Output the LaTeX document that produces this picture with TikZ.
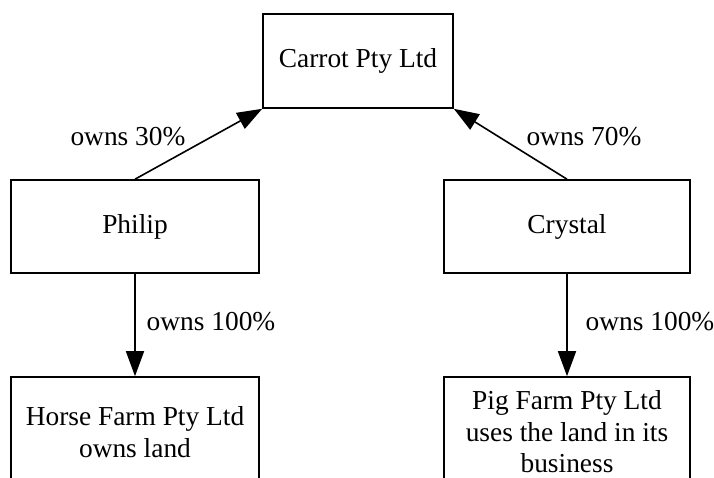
\documentclass[tikz,border=0pt]{standalone}
\usepackage{fontspec}
\setmainfont{Liberation Serif}
\usetikzlibrary{arrows.meta}
\begin{document}
\begin{tikzpicture}[x=1pt,y=-1pt,
  box/.style={draw,line width=1.6pt,rectangle,inner sep=0pt,align=center,
    font=\fontsize{27.4}{31.5}\selectfont},
  lbl/.style={inner sep=0pt,font=\fontsize{27.4}{31.5}\selectfont},
  arr/.style={line width=1.6pt,-{Triangle[length=25pt,width=18pt]}}]
\useasboundingbox (0,0) rectangle (714,478);
\fill[white] (0,0) rectangle (714,478);
\node[box,minimum width=190pt,minimum height=94pt] (carrot) at (358,61) {Carrot Pty Ltd};
\node[box,minimum width=248pt,minimum height=93pt] (philip) at (135,226.5) {Philip};
\node[box,minimum width=246pt,minimum height=93pt] (crystal) at (567,226.5) {Crystal};
\node[box,minimum width=248pt,minimum height=110pt] (horse) at (135,432) {Horse Farm Pty Ltd\\owns land};
\node[box,minimum width=246pt,minimum height=110pt] (pig) at (567,432) {Pig Farm Pty Ltd\\uses the land in its\\business};
\draw[arr] (philip.north) -- (carrot.south west);
\draw[arr] (crystal.north) -- (carrot.south east);
\draw[arr] (philip.south) -- (horse.north);
\draw[arr] (crystal.south) -- (pig.north);
\node[lbl] (l30) at (128,137) {owns 30\%};
\node[lbl] (l70) at (584,137) {owns 70\%};
\node[lbl] (l100a) at (211,322) {owns 100\%};
\node[lbl] (l100b) at (650,322) {owns 100\%};
\end{tikzpicture}
\end{document}
